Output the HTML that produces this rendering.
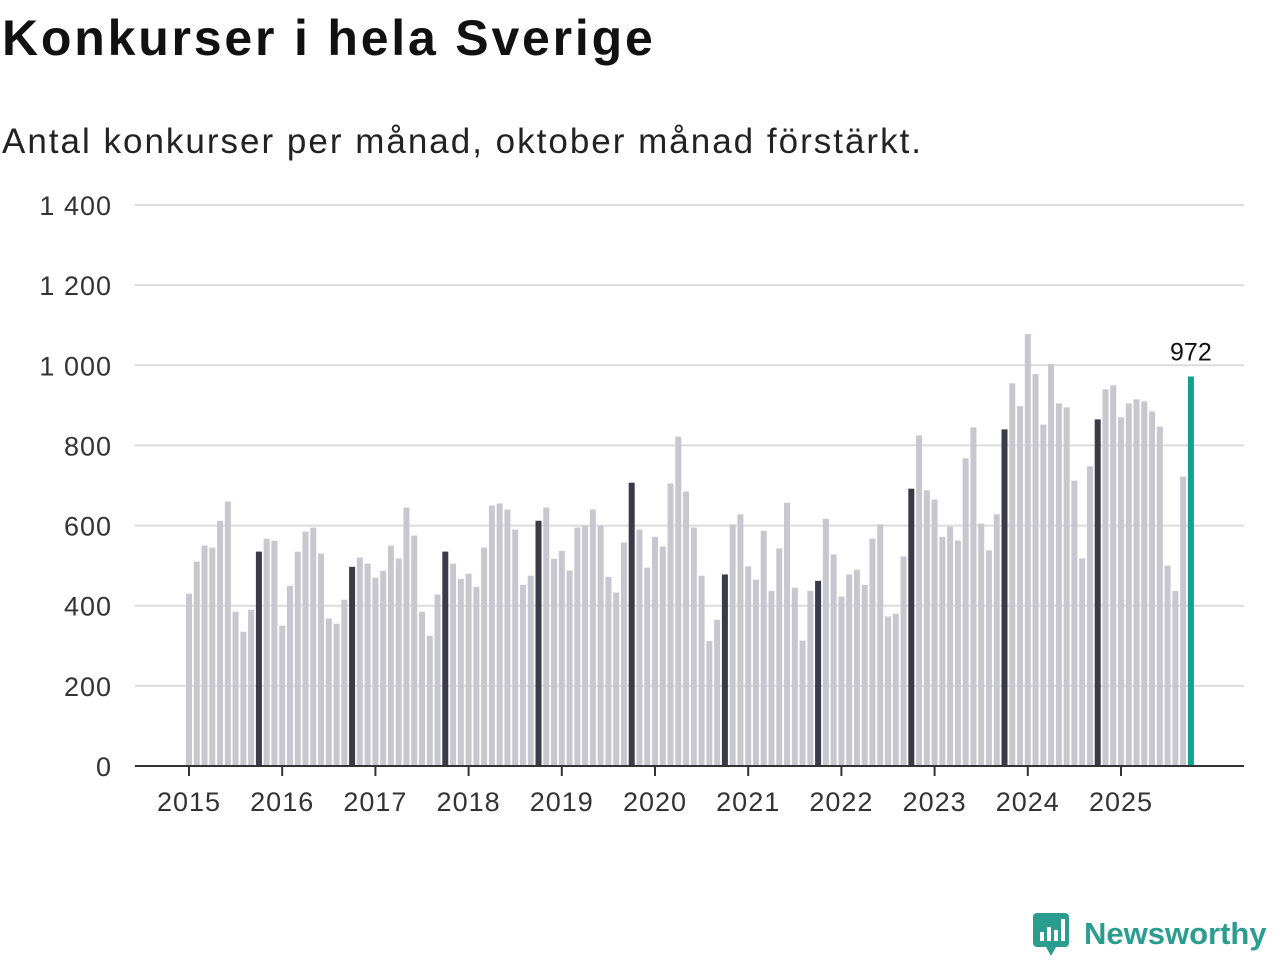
<!DOCTYPE html>
<html><head><meta charset="utf-8"><style>
body{margin:0;width:1280px;height:960px;background:#fff;font-family:"Liberation Sans","DejaVu Sans",sans-serif;overflow:hidden;position:relative}
h1{position:absolute;left:2px;top:9px;margin:0;font-size:50px;font-weight:bold;color:#111;letter-spacing:2.8px}
.sub{position:absolute;left:2px;top:122px;font-size:35px;color:#222;letter-spacing:2px}
</style></head><body>
<h1>Konkurser i hela Sverige</h1>
<div class="sub">Antal konkurser per månad, oktober månad förstärkt.</div>
<svg id="chart" width="1280" height="960" style="position:absolute;left:0;top:0"></svg>
<div style="position:absolute;left:1032px;top:910px;display:flex;align-items:center">
<svg width="40" height="48" viewBox="0 0 40 48"><rect x="1" y="3" width="36" height="34" rx="4" fill="#2a9d8f"/><polygon points="14,37 24,37 19,46" fill="#2a9d8f"/><rect x="8" y="22" width="4" height="9" fill="#fff"/><rect x="15" y="17" width="4" height="14" fill="#fff"/><rect x="22" y="20" width="4" height="11" fill="#fff"/><rect x="29" y="9" width="4" height="22" fill="#fff"/></svg>
<span style="font-size:31px;font-weight:bold;color:#2a9d8f;margin-left:12px">Newsworthy</span></div>
<script>
const years=[2015,2016,2017,2018,2019,2020,2021,2022,2023,2024,2025];
const values=[
430,510,550,545,612,660,385,335,390,535,567,562,
350,450,535,585,595,530,368,355,415,497,520,505,
470,487,550,518,645,575,385,325,428,535,505,467,
480,447,545,650,655,640,590,452,475,612,645,517,
537,488,595,600,640,600,472,433,558,707,590,495,
572,548,705,822,685,595,475,312,365,478,603,628,
498,465,587,437,543,657,445,313,437,462,617,528,
423,478,490,452,567,603,373,380,523,692,825,688,
665,572,597,563,768,845,605,538,628,840,955,898,
1078,978,852,1003,905,895,712,518,748,865,940,950,
870,905,915,910,885,847,500,437,722,972];
const yTicks=[0,200,400,600,800,1000,1200,1400];
const yTickLabels=["0","200","400","600","800","1 000","1 200","1 400"];
const NS="http://www.w3.org/2000/svg";
const svg=document.getElementById('chart');
const y=v=>766-v*(561/1400);
const x=i=>189+i*(932/120);
function mk(t,a){const e=document.createElementNS(NS,t);for(const k in a)e.setAttribute(k,a[k]);svg.appendChild(e);return e;}
yTicks.forEach((t,i)=>{
 if(t>0){const g=mk('line',{x1:135,x2:1244,y1:y(t),y2:y(t),stroke:'#dcdcdc','stroke-width':2});
 
 }
 const l=mk('text',{x:112,y:y(t)+10,'text-anchor':'end','font-size':27,fill:'#333','letter-spacing':1});l.textContent=yTickLabels[i];
 
 
});
values.forEach((v,i)=>{
 const last=i===values.length-1, oct=i%12===9;
 const r=mk('rect',{x:x(i)-3,y:y(v),width:6,height:766-y(v),fill:last?'#12a090':oct?'#3b3a48':'#c8c7d0'});
 
 
});
const lv=values[values.length-1];
const lt=mk('text',{x:x(values.length-1),y:y(lv)-16,'text-anchor':'middle','font-size':25,fill:'#111'});lt.textContent=lv;


const ax=mk('line',{x1:135,x2:1244,y1:766,y2:766,stroke:'#333','stroke-width':2});


years.forEach((yr,i)=>{
 const tk=mk('line',{x1:x(i*12),x2:x(i*12),y1:766,y2:776,stroke:'#333','stroke-width':2});
 
 
 const t=mk('text',{x:x(i*12),y:811,'text-anchor':'middle','font-size':27,fill:'#333','letter-spacing':1});t.textContent=yr;
 
 
});
</script>
</body></html>
